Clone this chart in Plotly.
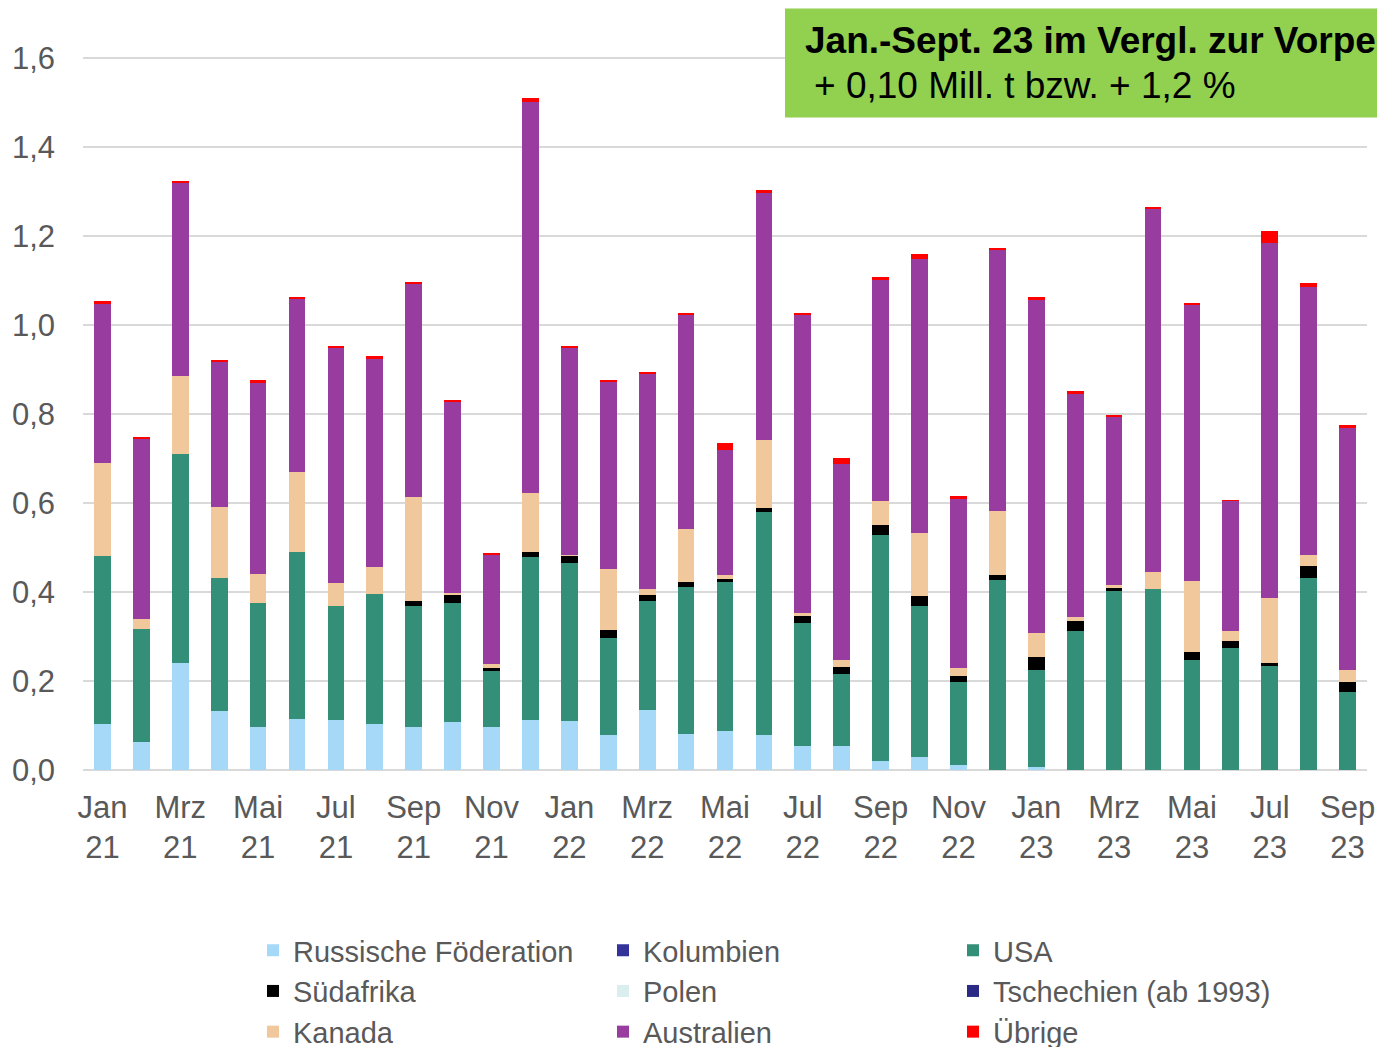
import plotly.graph_objects as go

months = ["Jan 21", "Feb 21", "Mrz 21", "Apr 21", "Mai 21", "Jun 21", "Jul 21", "Aug 21", "Sep 21", "Okt 21", "Nov 21", "Dez 21",
          "Jan 22", "Feb 22", "Mrz 22", "Apr 22", "Mai 22", "Jun 22", "Jul 22", "Aug 22", "Sep 22", "Okt 22", "Nov 22", "Dez 22",
          "Jan 23", "Feb 23", "Mrz 23", "Apr 23", "Mai 23", "Jun 23", "Jul 23", "Aug 23", "Sep 23"]

tick_vals = ["Jan 21", "Mrz 21", "Mai 21", "Jul 21", "Sep 21", "Nov 21", "Jan 22", "Mrz 22", "Mai 22",
             "Jul 22", "Sep 22", "Nov 22", "Jan 23", "Mrz 23", "Mai 23", "Jul 23", "Sep 23"]
tick_text = ["Jan<br>21", "Mrz<br>21", "Mai<br>21", "Jul<br>21", "Sep<br>21", "Nov<br>21", "Jan<br>22", "Mrz<br>22", "Mai<br>22",
             "Jul<br>22", "Sep<br>22", "Nov<br>22", "Jan<br>23", "Mrz<br>23", "Mai<br>23", "Jul<br>23", "Sep<br>23"]

russland = [0.103, 0.062, 0.240, 0.133, 0.097, 0.114, 0.113, 0.103, 0.096, 0.108, 0.096, 0.112,
            0.110, 0.078, 0.136, 0.080, 0.087, 0.079, 0.055, 0.054, 0.020, 0.030, 0.011, 0.000,
            0.007, 0.000, 0.000, 0.000, 0.000, 0.000, 0.000, 0.000, 0.000]
kolumbien = [0.0] * 33
usa = [0.379, 0.256, 0.471, 0.299, 0.278, 0.377, 0.256, 0.293, 0.273, 0.267, 0.126, 0.366,
       0.356, 0.219, 0.244, 0.331, 0.335, 0.501, 0.276, 0.162, 0.509, 0.339, 0.188, 0.427,
       0.218, 0.313, 0.403, 0.406, 0.248, 0.275, 0.236, 0.432, 0.175]
suedafrika = [0.000, 0.000, 0.000, 0.000, 0.000, 0.000, 0.000, 0.000, 0.011, 0.020, 0.008, 0.012,
              0.016, 0.017, 0.013, 0.011, 0.008, 0.009, 0.016, 0.015, 0.021, 0.022, 0.013, 0.012,
              0.028, 0.021, 0.007, 0.000, 0.018, 0.016, 0.004, 0.026, 0.024]
polen = [0.0] * 33
tschechien = [0.0] * 33
kanada = [0.208, 0.022, 0.174, 0.159, 0.065, 0.180, 0.052, 0.060, 0.235, 0.003, 0.008, 0.134,
          0.002, 0.137, 0.013, 0.119, 0.008, 0.152, 0.007, 0.016, 0.056, 0.142, 0.018, 0.144,
          0.055, 0.011, 0.005, 0.039, 0.160, 0.022, 0.147, 0.025, 0.026]
australien = [0.359, 0.405, 0.434, 0.328, 0.431, 0.389, 0.529, 0.468, 0.479, 0.431, 0.246, 0.878,
              0.465, 0.422, 0.485, 0.483, 0.282, 0.556, 0.670, 0.442, 0.495, 0.617, 0.379, 0.588,
              0.749, 0.501, 0.380, 0.817, 0.621, 0.293, 0.799, 0.603, 0.546]
uebrige = [0.005, 0.003, 0.005, 0.002, 0.007, 0.003, 0.002, 0.006, 0.003, 0.002, 0.002, 0.008,
           0.004, 0.003, 0.002, 0.002, 0.015, 0.008, 0.004, 0.013, 0.007, 0.010, 0.007, 0.001,
           0.007, 0.007, 0.002, 0.003, 0.003, 0.001, 0.027, 0.009, 0.004]

series = [
    ("Russische Föderation", russland, "#A6D8F8"),
    ("Kolumbien", kolumbien, "#333399"),
    ("USA", usa, "#338F77"),
    ("Südafrika", suedafrika, "#000000"),
    ("Polen", polen, "#DAEEF0"),
    ("Tschechien (ab 1993)", tschechien, "#2B2B85"),
    ("Kanada", kanada, "#F0C89B"),
    ("Australien", australien, "#993C9F"),
    ("Übrige", uebrige, "#FF0000"),
]

FONT = "Liberation Sans, Arial, sans-serif"
GRAY = "#595959"

fig = go.Figure()
for name, vals, col in series:
    fig.add_trace(go.Bar(x=months, y=vals, name=name, marker=dict(color=col, line=dict(width=0))))

W, H = 1377, 1047
L, R, T, B = 83, 10, 13.5, 277
pw = W - L - R
ph = H - T - B

def px2x(p):
    return (p - L) / pw

def px2y(p):
    return (H - B - p) / ph

fig.update_layout(
    width=W, height=H,
    margin=dict(l=L, r=R, t=T, b=B, pad=0, autoexpand=False),
    barmode="stack",
    bargap=0.57,
    plot_bgcolor="white",
    paper_bgcolor="white",
    font=dict(family=FONT, color=GRAY, size=31),
    xaxis=dict(
        type="category",
        tickmode="array",
        tickvals=tick_vals,
        ticktext=tick_text,
        tickangle=0,
        showgrid=False,
        showline=False,
        zeroline=False,
        ticks="",
        ticklabelstandoff=16,
        tickfont=dict(size=31, color=GRAY, family=FONT),
    ),
    yaxis=dict(
        range=[0, 1.7],
        tickmode="array",
        tickvals=[0, 0.2, 0.4, 0.6, 0.8, 1.0, 1.2, 1.4, 1.6],
        ticktext=["0,0", "0,2", "0,4", "0,6", "0,8", "1,0", "1,2", "1,4", "1,6"],
        showgrid=True,
        gridcolor="#D9D9D9",
        gridwidth=2,
        zeroline=True,
        zerolinecolor="#D9D9D9",
        zerolinewidth=2,
        showline=False,
        ticks="",
        ticklabelstandoff=27,
        tickfont=dict(size=31, color=GRAY, family=FONT),
    ),
    legend=dict(
        orientation="h",
        x=px2x(253), xanchor="left",
        y=px2y(925), yanchor="top",
        entrywidth=305, entrywidthmode="pixels",
        traceorder="normal",
        font=dict(size=29, color=GRAY, family=FONT),
        itemwidth=30,
        bgcolor="rgba(0,0,0,0)",
    ),
    showlegend=True,
)

fig.add_shape(type="rect", xref="paper", yref="paper",
              x0=px2x(785), x1=px2x(1400), y0=px2y(117), y1=px2y(8),
              fillcolor="#92D050", line=dict(width=0), layer="above")

fig.add_annotation(xref="paper", yref="paper", x=px2x(803), y=px2y(40),
                   xanchor="left", yanchor="middle", showarrow=False,
                   text="<b>Jan.-Sept. 23 im Vergl. zur Vorperiode</b>",
                   font=dict(size=37, color="#000000", family=FONT))
fig.add_annotation(xref="paper", yref="paper", x=px2x(812), y=px2y(85),
                   xanchor="left", yanchor="middle", showarrow=False,
                   text="+ 0,10 Mill. t bzw. + 1,2 %",
                   font=dict(size=37, color="#000000", family=FONT))

fig.write_html("out.html", config={"displayModeBar": False},
               post_script="document.body.style.margin='0';document.body.style.overflow='hidden';")
